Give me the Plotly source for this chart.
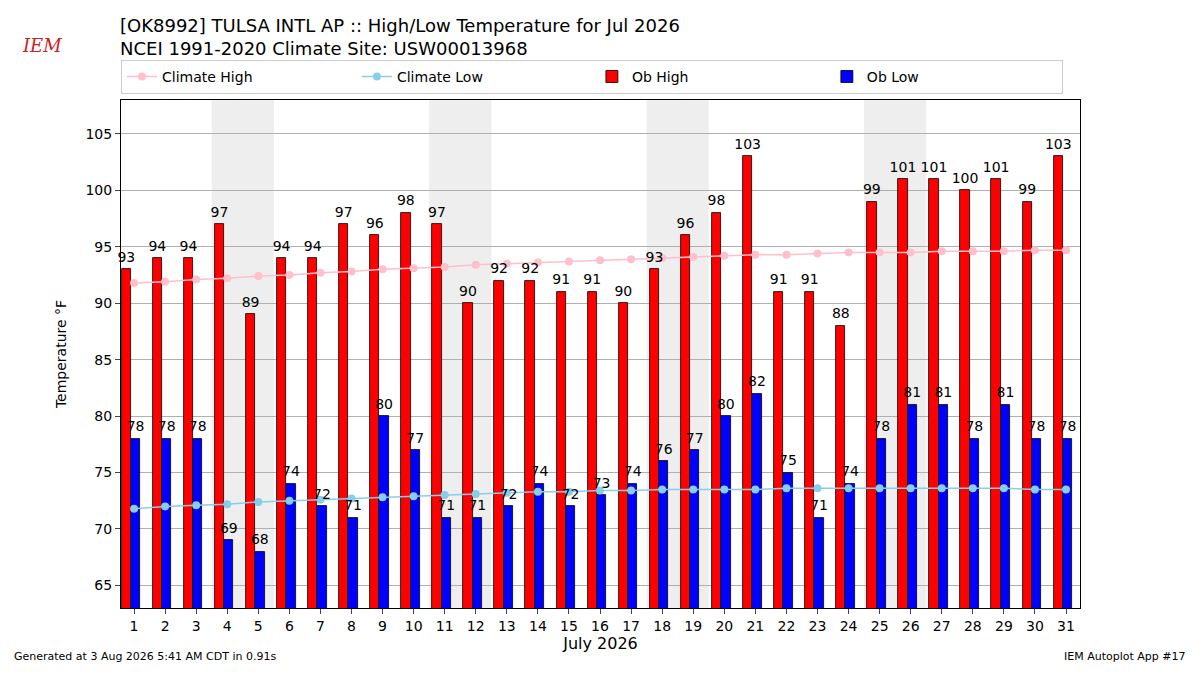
import plotly.graph_objects as go

days = list(range(1, 32))
ob_high = [93, 94, 94, 97, 89, 94, 94, 97, 96, 98, 97, 90, 92, 92, 91, 91, 90, 93, 96, 98,
           103, 91, 91, 88, 99, 101, 101, 100, 101, 99, 103]
ob_low = [78, 78, 78, 69, 68, 74, 72, 71, 80, 77, 71, 71, 72, 74, 72, 73, 74, 76, 77, 80,
          82, 75, 71, 74, 78, 81, 81, 78, 81, 78, 78]
clim_high = [91.8, 91.9, 92.1, 92.2, 92.4, 92.5, 92.7, 92.8, 93.0, 93.1, 93.2, 93.4, 93.5,
             93.6, 93.7, 93.8, 93.9, 94.0, 94.1, 94.2, 94.3, 94.3, 94.4, 94.5, 94.5, 94.5,
             94.6, 94.6, 94.6, 94.7, 94.7]
clim_low = [71.8, 72.0, 72.1, 72.2, 72.4, 72.5, 72.6, 72.7, 72.8, 72.9, 73.0, 73.1, 73.2,
            73.3, 73.3, 73.4, 73.4, 73.5, 73.5, 73.5, 73.5, 73.6, 73.6, 73.6, 73.6, 73.6,
            73.6, 73.6, 73.6, 73.5, 73.5]
weekends = [(4, 5), (11, 12), (18, 19), (25, 26)]

fig = go.Figure()
fig.add_trace(go.Bar(x=days, y=ob_high, name="Ob High", base=0, width=0.3, offset=-0.4,
                     legendrank=3,
                     marker=dict(color="red", line=dict(color="black", width=0.8))))
fig.add_trace(go.Bar(x=days, y=ob_low, name="Ob Low", base=0, width=0.3, offset=-0.1,
                     legendrank=4,
                     marker=dict(color="blue", line=dict(color="black", width=0.8))))
fig.add_trace(go.Scatter(x=days, y=clim_high, mode="lines+markers", name="Climate High",
                         legendrank=1,
                         line=dict(color="pink", width=1.5), marker=dict(size=8, color="pink")))
fig.add_trace(go.Scatter(x=days, y=clim_low, mode="lines+markers", name="Climate Low",
                         legendrank=2,
                         line=dict(color="skyblue", width=1.5), marker=dict(size=8, color="skyblue")))
# value labels above bars
fig.add_trace(go.Scatter(x=[d - 0.25 for d in days], y=[v + 0.35 for v in ob_high],
                         mode="text", text=ob_high,
                         textposition="top center", showlegend=False, cliponaxis=False,
                         textfont=dict(size=14, color="black")))
fig.add_trace(go.Scatter(x=[d + 0.05 for d in days], y=[v + 0.35 for v in ob_low],
                         mode="text", text=ob_low,
                         textposition="top center", showlegend=False, cliponaxis=False,
                         textfont=dict(size=14, color="black")))

for a, b in weekends:
    fig.add_vrect(x0=a - 0.5, x1=b + 0.5, fillcolor="#eeeeee", line_width=0, layer="below")

fig.update_layout(
    width=1184, height=659, plot_bgcolor="white", paper_bgcolor="white",
    margin=dict(l=113, r=112, t=92, b=59, autoexpand=False),
    font=dict(family="DejaVu Sans", size=14, color="black"),
    barmode="overlay", bargap=0,
    legend=dict(orientation="h", x=0, y=1.012, xanchor="left", yanchor="bottom",
                entrywidth=0.245, entrywidthmode="fraction", traceorder="normal",
                bordercolor="#cccccc", borderwidth=1, font=dict(size=14)),
    xaxis=dict(range=[0.58, 31.45], tickvals=days, showgrid=False, showline=True,
               linecolor="black", mirror=True, ticks="outside",
               title=dict(text="July 2026", font=dict(size=16), standoff=5)),
    yaxis=dict(range=[63, 108], dtick=5, showgrid=True, gridcolor="#b0b0b0",
               showline=True, linecolor="black", mirror=True, ticks="outside",
               zeroline=False, title=dict(text="Temperature °F", font=dict(size=14))),
    annotations=[
        dict(text="[OK8992] TULSA INTL AP :: High/Low Temperature for Jul 2026<br>"
                  "NCEI 1991-2020 Climate Site: USW00013968",
             xref="paper", yref="paper", x=-0.003, y=1.171, xanchor="left", yanchor="top",
             align="left", showarrow=False, font=dict(size=18)),
        dict(text="Generated at 3 Aug 2026 5:41 AM CDT in 0.91s", xref="paper",
             yref="paper", x=-0.1137, y=-0.112, xanchor="left", yanchor="bottom",
             showarrow=False, font=dict(size=11)),
        dict(text="IEM Autoplot App #17", xref="paper", yref="paper", x=1.1126,
             y=-0.112, xanchor="right", yanchor="bottom", showarrow=False, font=dict(size=11)),
        dict(text="<i>IEM</i>", xref="paper", yref="paper", x=-0.105, y=1.083,
             xanchor="left", yanchor="bottom", showarrow=False,
             font=dict(size=18, color="#cc2222", family="DejaVu Serif")),
    ],
)

fig.write_html("out.html")
